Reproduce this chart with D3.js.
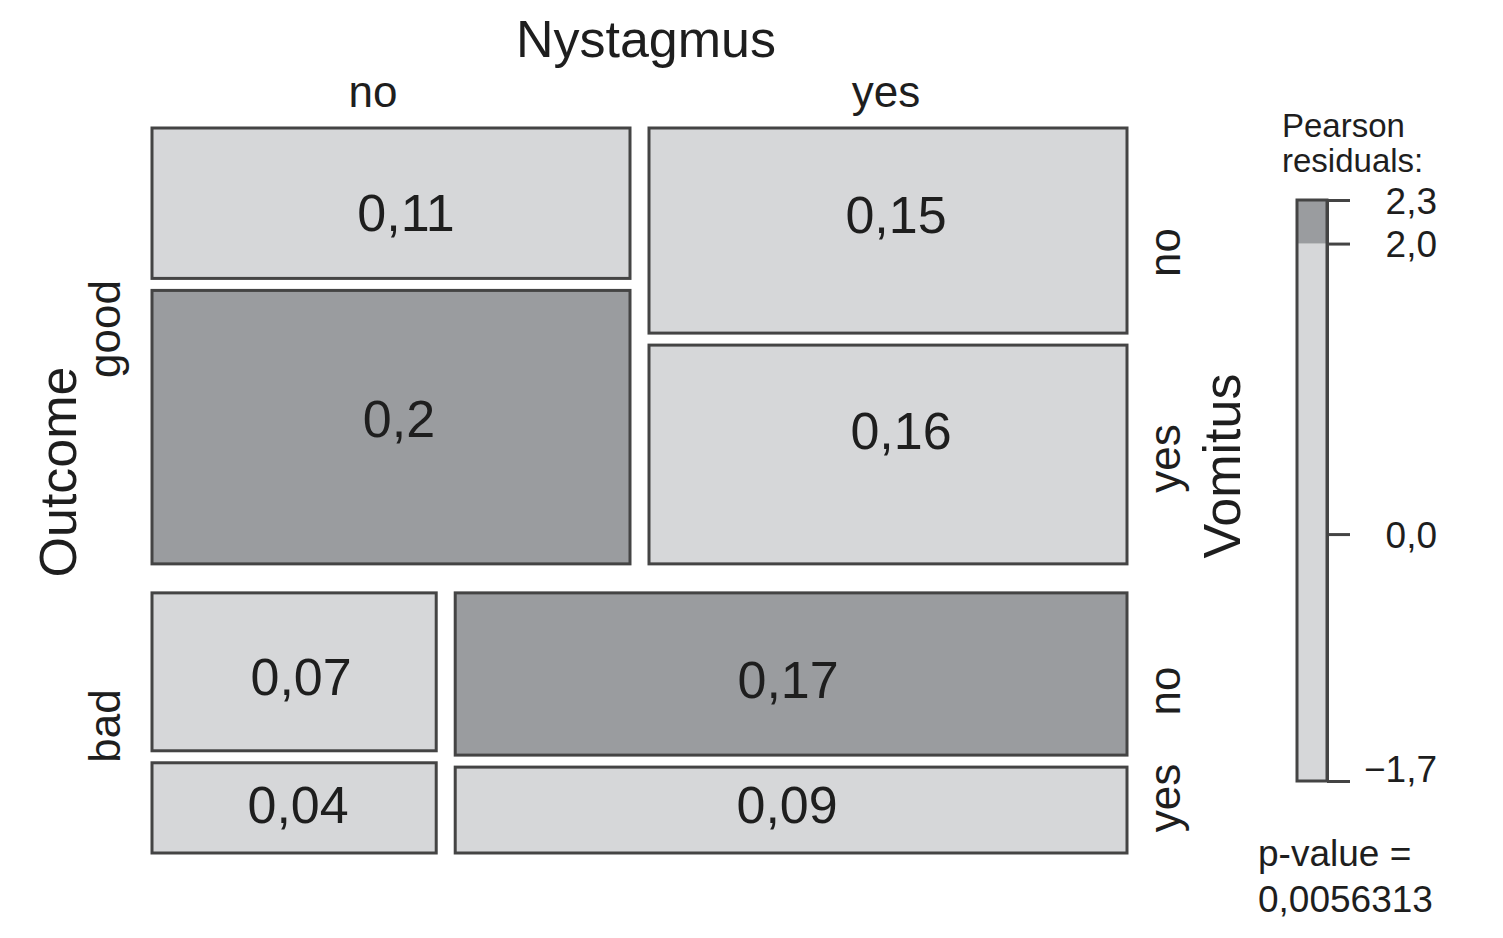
<!DOCTYPE html>
<html><head><meta charset="utf-8">
<script src="https://cdn.jsdelivr.net/npm/d3@7"></script>
<style>
body{margin:0;background:#fff}
svg{display:block}
text{font-family:"Liberation Sans",Arial,Helvetica,sans-serif;fill:#1e1e1e}
</style>
</head><body>
<svg id="c" width="1503" height="938"></svg>
<script>
// ---------- data ----------
const outcomes = ["good", "bad"];
const nystagmus = ["no", "yes"];
const vomitus = ["no", "yes"];
// cell proportions, [nystagmus][vomitus]
const propGood = [[0.11, 0.20], [0.15, 0.16]];
const propBad  = [[0.07, 0.04], [0.17, 0.09]];
// estimated Pearson residuals, [nystagmus][vomitus]
const residGood = [[-0.4, 2.3], [-0.5, -0.6]];
const residBad  = [[-1.7, -0.4], [2.1, 0.2]];
const legendTicks = [2.3, 2.0, 0.0, -1.7];
const legendBreak = 2.0;
const pValueText = "0,0056313";

// ---------- layout ----------
const svg = d3.select("#c");
const X0 = 152, X1 = 1127, Y0 = 128, Y1 = 853;
const gapOut = 29, gapNys = 19, gapVom = 12;
const lightFill = "#d6d7d9", darkFill = "#9a9c9f", edge = "#444";
// label nudges (px) as placed in the reference, in cell order
const cellLabelNudge = [[15, 9], [8, -9], [8, -16], [13, -24], [7, 4], [4, -4], [-3, 5], [-4, -6]];
const topLabelNudge = [-18, -2];
const leftLabelNudge = [-17, 3];
const rightLabelNudge = [22, 4, 17, -12];

const loc = d3.formatLocale({decimal: ",", thousands: ".", grouping: [3], currency: ["", ""], minus: "\u2212"});
const fmtCell = loc.format(".2~f");
const fmtTick = loc.format(".1f");

const props = [propGood, propBad];
const resids = [residGood, residBad];
const outTot = props.map(p => d3.sum(p.flat()));
const grand = d3.sum(outTot);

const fillScale = d3.scaleThreshold().domain([legendBreak]).range([lightFill, darkFill]);

const yOut = d3.scaleLinear().domain([0, grand]).range([0, Y1 - Y0 - gapOut]);
const cells = [];
const outRegions = [];
const nysRegions = [];
let yCur = Y0;
outcomes.forEach((o, i) => {
  const h = yOut(outTot[i]);
  outRegions.push({name: o, y: yCur, h});
  const nysTot = nystagmus.map((n, j) => d3.sum(props[i][j]));
  const xS = d3.scaleLinear().domain([0, outTot[i]]).range([0, X1 - X0 - gapNys]);
  let xCur = X0;
  nystagmus.forEach((n, j) => {
    const w = xS(nysTot[j]);
    if (i === 0) nysRegions.push({name: n, x: xCur, w});
    const yS = d3.scaleLinear().domain([0, nysTot[j]]).range([0, h - gapVom]);
    let yc = yCur;
    vomitus.forEach((v, k) => {
      const ch = yS(props[i][j][k]);
      cells.push({o, n, v, i, j, k, x: xCur, y: yc, w, h: ch,
                  p: props[i][j][k], r: resids[i][j][k]});
      yc += ch + gapVom;
    });
    xCur += w + gapNys;
  });
  yCur += h + gapOut;
});

// cells
svg.append("g").selectAll("rect").data(cells).join("rect")
  .attr("x", d => d.x).attr("y", d => d.y)
  .attr("width", d => d.w).attr("height", d => d.h)
  .attr("fill", d => fillScale(d.r))
  .attr("stroke", edge).attr("stroke-width", 3);

svg.append("g").selectAll("text").data(cells).join("text")
  .attr("x", (d, idx) => d.x + d.w / 2 + cellLabelNudge[idx][0])
  .attr("y", (d, idx) => d.y + d.h / 2 + cellLabelNudge[idx][1])
  .attr("dy", "0.36em").attr("text-anchor", "middle")
  .attr("font-size", 52)
  .text(d => fmtCell(d.p));

// titles
svg.append("text").attr("x", 646).attr("y", 57).attr("text-anchor", "middle")
  .attr("font-size", 52).text("Nystagmus");
svg.append("text").attr("transform", "translate(76,472) rotate(-90)")
  .attr("text-anchor", "middle").attr("font-size", 52).text("Outcome");
svg.append("text").attr("transform", "translate(1240,466) rotate(-90)")
  .attr("text-anchor", "middle").attr("font-size", 52).text("Vomitus");

// top level labels (Nystagmus)
svg.append("g").selectAll("text").data(nysRegions).join("text")
  .attr("x", (d, idx) => d.x + d.w / 2 + topLabelNudge[idx]).attr("y", 107)
  .attr("text-anchor", "middle").attr("font-size", 44).text(d => d.name);

// left level labels (Outcome)
svg.append("g").selectAll("text").data(outRegions).join("text")
  .attr("transform", (d, idx) => `translate(120,${d.y + d.h / 2 + leftLabelNudge[idx]}) rotate(-90)`)
  .attr("text-anchor", "middle").attr("font-size", 44).text(d => d.name);

// right level labels (Vomitus) beside last column
const lastCol = cells.filter(d => d.j === nystagmus.length - 1);
svg.append("g").selectAll("text").data(lastCol).join("text")
  .attr("transform", (d, idx) => `translate(1180,${d.y + d.h / 2 + rightLabelNudge[idx]}) rotate(-90)`)
  .attr("text-anchor", "middle").attr("font-size", 44).text(d => d.v);

// ---------- legend ----------
const lx = 1297, lw = 30;
const lScale = d3.scaleLinear().domain([d3.min(legendTicks), d3.max(legendTicks)]).range([781, 200]);
const segs = [
  {lo: d3.min(legendTicks), hi: legendBreak, fill: lightFill},
  {lo: legendBreak, hi: d3.max(legendTicks), fill: darkFill}
];
const lg = svg.append("g");
lg.selectAll("rect.seg").data(segs).join("rect").attr("class", "seg")
  .attr("x", lx).attr("width", lw)
  .attr("y", d => lScale(d.hi)).attr("height", d => lScale(d.lo) - lScale(d.hi))
  .attr("fill", d => d.fill);
lg.append("rect").attr("x", lx).attr("y", lScale.range()[1]).attr("width", lw)
  .attr("height", lScale.range()[0] - lScale.range()[1])
  .attr("fill", "none").attr("stroke", edge).attr("stroke-width", 3);

const axis = d3.axisRight(lScale).tickValues(legendTicks).tickSize(23).tickSizeOuter(0)
  .tickFormat(d => fmtTick(d));
const ag = lg.append("g").attr("transform", `translate(${lx + lw},0)`).call(axis);
ag.select(".domain").attr("stroke", edge).attr("stroke-width", 3);
ag.selectAll(".tick line").attr("stroke", edge).attr("stroke-width", 3);
ag.selectAll(".tick text")
  .attr("x", 110).attr("text-anchor", "end")
  .attr("font-size", 37).attr("font-family", null).attr("fill", "#1e1e1e")
  .attr("dy", d => d === d3.min(legendTicks) ? "0em" : "0.36em");
ag.attr("font-size", null).attr("font-family", null);

lg.append("text").attr("x", 1282).attr("y", 137).attr("font-size", 33).text("Pearson");
lg.append("text").attr("x", 1282).attr("y", 172).attr("font-size", 33).text("residuals:");
lg.append("text").attr("x", 1258).attr("y", 866).attr("font-size", 37).text("p-value =");
lg.append("text").attr("x", 1258).attr("y", 912).attr("font-size", 37).text(pValueText);
</script>
</body></html>
